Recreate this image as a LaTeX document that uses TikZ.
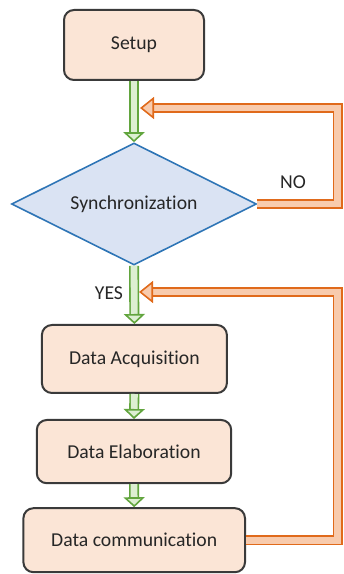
\documentclass[tikz,border=0pt]{standalone}
\usepackage{fontspec}
\setmainfont{Carlito}[Ligatures=NoCommon]
\usepackage{tikz}
\usetikzlibrary{shapes.geometric,arrows.meta}
\usepackage{xcolor}

\definecolor{boxfill}{HTML}{FBE5D6}
\definecolor{boxline}{HTML}{3A3A3A}
\definecolor{syncfill}{HTML}{DAE3F3}
\definecolor{syncline}{HTML}{2E75B6}
\definecolor{goline}{HTML}{62A53E}
\definecolor{gofill}{HTML}{DDEFD2}
\definecolor{loopline}{HTML}{E06A1B}
\definecolor{loopfill}{HTML}{F8CBAD}

\tikzset{
    txt/.style={font=\fontsize{14}{16}\selectfont, text=black!85},
    stepbox/.style={txt, draw=boxline, fill=boxfill, line width=0.05cm, rounded corners=0.25cm, inner sep=0pt},
    decision/.style={txt, diamond, draw=syncline, fill=syncfill, line width=0.04cm, inner sep=0pt, aspect=2},
    goarrow/.style={draw=goline, double=gofill, double distance=0.17cm, line width=0.04cm,
        -{Triangle[length=0.25cm, width=0.53cm, fill=gofill]}},
    looparrow/.style={draw=loopline, double=loopfill, double distance=0.17cm, line width=0.04cm,
        -{Triangle[length=0.35cm, width=0.55cm, fill=loopfill]}},
}

\begin{document}
\begin{tikzpicture}
        \useasboundingbox (0,0) rectangle (8.575,14.35);
        % Steps
        \draw (3.35,13.225) node[stepbox, minimum width=3.5cm, minimum height=1.75cm](setup) {Setup};
        \draw (3.35,9.25) node[decision, minimum width=6.125cm, minimum height=3.05cm](sync) {Synchronization};
        \draw (3.36,5.375) node[stepbox, minimum width=4.625cm, minimum height=1.7cm](acq) {Data Acquisition};
        \draw (3.35,3.06) node[stepbox, minimum width=4.86cm, minimum height=1.58cm](elab) {Data Elaboration};
        \draw (3.355,0.845) node[stepbox, minimum width=5.54cm, minimum height=1.6cm](comm) {Data communication};
        % Main flow
        \draw[goarrow] (setup.south) -- (sync.north);
        \draw[goarrow] (sync.south) -- (acq.north);
        \draw[goarrow] (acq.south) -- (elab.north);
        \draw[goarrow] (elab.south) -- (comm.north);
        % Loops back
        \coordinate (backA) at (3.5,11.65);
        \coordinate (backB) at (3.475,7.05);
        \draw[looparrow] (sync.east) -| (8.44,11.65) -- (backA);
        \draw[looparrow] (comm.east) -| (8.44,7.05) -- (backB);
        \draw (7.325,9.8) node[txt](nolabel) {NO};
        \draw (2.725,7.025) node[txt](yeslabel) {YES};
    \end{tikzpicture}
\end{document}
